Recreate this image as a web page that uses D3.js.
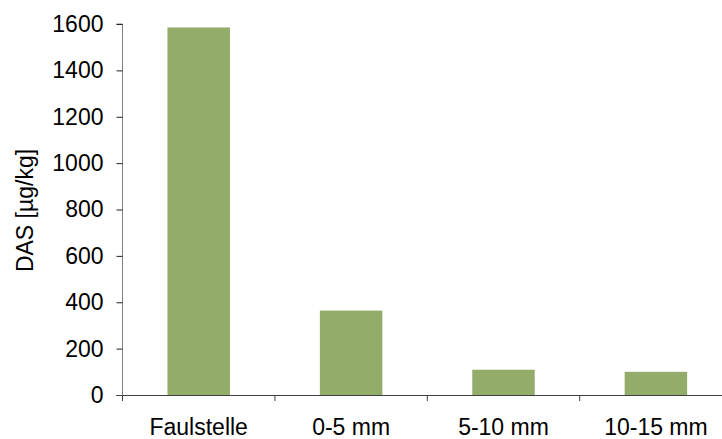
<!DOCTYPE html>
<html><head><meta charset="utf-8">
<script src="https://cdn.jsdelivr.net/npm/d3@7"></script>
<style>body{margin:0;background:#fff}svg{display:block}text{font-family:"Liberation Sans",Arial,sans-serif}</style>
</head><body>
<svg id="c" width="722" height="439"></svg>
<script>
const categories = ["Faulstelle", "0-5 mm", "5-10 mm", "10-15 mm"];
const values = [1585, 364, 109, 100];
const yTicks = [0, 200, 400, 600, 800, 1000, 1200, 1400, 1600];
const yLabel = "DAS [µg/kg]";

(function () {
const svg = d3.select("#c");
const fs = 23;
const mLeft = 122.5, mTop = 24, mBottom = 395, bandW = 152.4;
const x = d3.scaleBand().domain(categories).range([mLeft, mLeft + bandW * categories.length]).paddingInner(0).paddingOuter(0);
const y = d3.scaleLinear().domain([0, 1600]).range([mBottom, mTop]);

svg.selectAll("rect.bar").data(values).join("rect")
  .attr("class", "bar")
  .attr("x", (d, i) => x(categories[i]) + x.bandwidth() * 0.295)
  .attr("width", x.bandwidth() * 0.41)
  .attr("y", d => y(d))
  .attr("height", d => y(0) - y(d))
  .attr("fill", "#94ac6a");

const yAxis = svg.append("g").attr("transform", `translate(${mLeft},0)`)
  .call(d3.axisLeft(y).tickValues(yTicks).tickSize(6).tickPadding(13).tickFormat(d3.format("d")));
yAxis.select(".domain").attr("stroke", "#808080").attr("d", `M-6,${mTop}H0V${mBottom}`);
yAxis.selectAll(".tick line").attr("stroke", "#202020");
yAxis.selectAll(".tick text").attr("font-size", fs).attr("fill", "#000").attr("font-family", "Liberation Sans, Arial, sans-serif");

const xAxis = svg.append("g").attr("transform", `translate(0,${mBottom})`)
  .call(d3.axisBottom(x).tickSize(0).tickPadding(24));
xAxis.select(".domain").attr("stroke", "#404040").attr("d", `M${mLeft - 6},0.5H722`);
xAxis.selectAll(".tick text").attr("font-size", fs).attr("fill", "#000").attr("font-family", "Liberation Sans, Arial, sans-serif");
svg.append("g").selectAll("line").data(categories).join("line")
  .attr("x1", d => x(d)).attr("x2", d => x(d))
  .attr("y1", mBottom).attr("y2", mBottom + 6)
  .attr("stroke", "#404040");

svg.append("text")
  .attr("transform", `translate(33,210.5) rotate(-90)`)
  .attr("text-anchor", "middle")
  .attr("font-size", fs)
  .attr("fill", "#000")
  .text(yLabel);
})();
</script>
</body></html>
